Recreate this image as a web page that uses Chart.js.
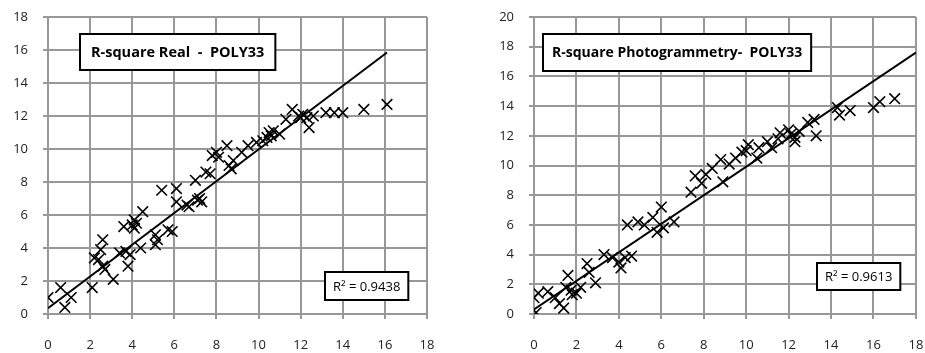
<!DOCTYPE html>
<html>
<head>
<meta charset="utf-8">
<script src="https://cdn.jsdelivr.net/npm/chart.js@4.4.0/dist/chart.umd.min.js"></script>
<style>
  body { margin: 0; background: #fff; }
  .wrap { display: flex; width: 925px; height: 353px; }
  .box { position: relative; height: 353px; }
</style>
</head>
<body>
<div class="wrap">
  <div class="box" style="width:462px"><canvas id="realChart"></canvas></div>
  <div class="box" style="width:463px"><canvas id="photoChart"></canvas></div>
</div>
<script>
// dados
const realX = [0, 0.6, 0.8, 1.1, 2.1, 2.2, 2.5, 2.6, 2.6, 2.7, 3.1, 3.4, 3.7, 3.8, 3.6, 4.0, 4.1, 4.2, 4.5, 4.4,
  5.1, 5.2, 5.1, 5.4, 5.7, 5.9, 6.1, 6.1, 6.7, 7.0, 7.1, 7.3, 7.5, 7.7, 7.8, 8.0, 8.1, 8.5, 8.6, 8.7,
  8.8, 9.2, 9.5, 9.9, 10.2, 10.4, 10.5, 10.6, 10.7, 11.0, 11.3, 11.6, 11.9, 12.0, 12.1, 12.3, 12.4, 12.6, 13.2, 13.6,
  14.0, 15.0, 16.1, 2.4, 3.9, 4.1, 6.6, 7.2];
const realY = [1.0, 1.6, 0.4, 1.0, 1.6, 3.4, 3.9, 4.5, 2.9, 2.7, 2.1, 3.7, 3.8, 2.9, 5.3, 5.4, 5.7, 5.5, 6.2, 4.0,
  4.8, 4.5, 4.2, 7.5, 5.1, 5.0, 7.6, 6.8, 6.5, 8.1, 6.9, 6.8, 8.6, 8.5, 9.6, 9.8, 9.5, 10.2, 9.0, 8.8,
  9.3, 9.8, 10.2, 10.4, 10.5, 10.7, 11.0, 10.8, 11.1, 10.9, 11.8, 12.4, 12.0, 11.9, 12.1, 11.9, 11.3, 12.0, 12.2, 12.2,
  12.2, 12.4, 12.7, 3.3, 3.6, 5.2, 6.6, 7.0];
const realTrendX = [0, 16.1];
const realTrendY = [0.35, 15.85];

const photoX = [0.1, 0, 0.2, 0.65, 1.0, 1.2, 1.4, 1.6, 1.5, 1.75, 2.0, 2.2, 2.5, 2.6, 2.9, 3.3, 3.7, 4.1, 4.3, 4.6,
  4.4, 4.9, 5.2, 5.6, 6.0, 5.8, 6.1, 6.6, 7.4, 7.6, 8.1, 7.9, 8.8, 9.2, 9.5, 8.9, 10.1, 10.6, 10.5, 11.0,
  11.5, 11.6, 12.1, 12.3, 12.3, 12.9, 13.2, 13.3, 14.3, 14.4, 14.9, 16.0, 16.3, 17.0, 10.0, 11.2, 12.0, 12.5, 9.8, 8.4,
  1.8, 4.0];
const photoY = [0.1, 1.1, 1.4, 1.5, 1.1, 0.7, 0.4, 2.6, 1.8, 1.6, 1.4, 1.8, 3.4, 2.8, 2.1, 4.0, 3.8, 3.1, 3.8, 3.9,
  6.0, 6.2, 6.0, 6.5, 7.2, 5.5, 5.8, 6.2, 8.2, 9.3, 9.4, 8.8, 10.4, 10.1, 10.5, 8.9, 11.4, 11.2, 10.5, 11.6,
  11.8, 12.2, 12.1, 11.9, 11.6, 12.9, 13.1, 12.0, 13.9, 13.4, 13.7, 13.9, 14.3, 14.5, 11.0, 11.2, 12.4, 12.3, 10.9, 9.8,
  1.3, 3.5];
const photoTrendX = [0, 18];
const photoTrendY = [0.3, 17.6];

const xTicks = [0, 2, 4, 6, 8, 10, 12, 14, 16, 18];
const realYTicks = [0, 2, 4, 6, 8, 10, 12, 14, 16, 18];
const photoYTicks = [0, 2, 4, 6, 8, 10, 12, 14, 16, 18, 20];

Chart.defaults.font.family = "'Open Sans', sans-serif";
Chart.defaults.font.size = 13;
Chart.defaults.color = '#222';

const toPoints = (xs, ys) => xs.map((x, i) => ({ x: x, y: ys[i] }));

// caixas de texto (título e R²)
const boxPlugin = {
  id: 'textBoxes',
  afterDraw(chart, args, opts) {
    const ctx = chart.ctx;
    ctx.save();
    opts.boxes.forEach(b => {
      ctx.font = b.font;
      const w = ctx.measureText(b.text).width + 2 * b.pad;
      ctx.fillStyle = '#fff';
      ctx.fillRect(b.left, b.top, w, b.height);
      ctx.strokeStyle = '#000';
      ctx.lineWidth = 2;
      ctx.strokeRect(b.left, b.top, w, b.height);
      ctx.fillStyle = '#000';
      ctx.textBaseline = 'middle';
      ctx.fillText(b.text, b.left + b.pad, b.top + b.height / 2 + 1);
    });
    ctx.restore();
  }
};

function makeChart(id, xs, ys, tx, ty, yMax, yTicks, yWidth, padRight, boxes) {
  const ctx = document.getElementById(id).getContext('2d');
  return new Chart(ctx, {
    type: 'scatter',
    data: {
      datasets: [{
        data: toPoints(xs, ys),
        pointStyle: 'crossRot',
        pointRadius: 7.5,
        pointHoverRadius: 7.5,
        borderColor: '#000',
        backgroundColor: '#000',
        borderWidth: 1.6
      }, {
        type: 'line',
        data: toPoints(tx, ty),
        borderColor: '#000',
        borderWidth: 2,
        pointRadius: 0,
        fill: false
      }]
    },
    options: {
      responsive: true,
      maintainAspectRatio: false,
      animation: false,
      layout: { padding: { top: 17, right: padRight, left: 0, bottom: 0 } },
      plugins: {
        legend: { display: false },
        tooltip: { enabled: false },
        textBoxes: { boxes: boxes }
      },
      scales: {
        x: {
          type: 'linear',
          min: 0, max: 18,
          afterBuildTicks: s => { s.ticks = xTicks.map(v => ({ value: v })); },
          afterFit: s => { s.height = 39; s.paddingLeft = 0; s.paddingRight = 0; },
          ticks: { padding: 18, font: { size: 13 } },
          grid: { color: '#989898', lineWidth: 2, tickLength: 5, tickColor: '#989898' },
          border: { color: '#989898', width: 2 }
        },
        y: {
          type: 'linear',
          min: 0, max: yMax,
          afterBuildTicks: s => { s.ticks = yTicks.map(v => ({ value: v })); },
          afterFit: s => { s.width = yWidth; s.paddingTop = 0; s.paddingBottom = 0; },
          ticks: { padding: 15, font: { size: 13 } },
          grid: { color: '#989898', lineWidth: 2, tickLength: 5, tickColor: '#989898' },
          border: { color: '#989898', width: 2 }
        }
      }
    },
    plugins: [boxPlugin]
  });
}

makeChart('realChart', realX, realY, realTrendX, realTrendY, 18, realYTicks, 48, 35, [
  { text: 'R-square Real  -  POLY33', font: "bold 14.5px 'Open Sans', sans-serif", left: 80, top: 34, height: 36, pad: 11 },
  { text: 'R² = 0.9438', font: "13px 'Open Sans', sans-serif", left: 325, top: 272, height: 28, pad: 8 }
]);

makeChart('photoChart', photoX, photoY, photoTrendX, photoTrendY, 20, photoYTicks, 72, 9, [
  { text: 'R-square Photogrammetry-  POLY33', font: "bold 14px 'Open Sans', sans-serif", left: 81, top: 34, height: 37, pad: 9 },
  { text: 'R² = 0.9613', font: "13px 'Open Sans', sans-serif", left: 355, top: 263, height: 27, pad: 8 }
]);
</script>
</body>
</html>
